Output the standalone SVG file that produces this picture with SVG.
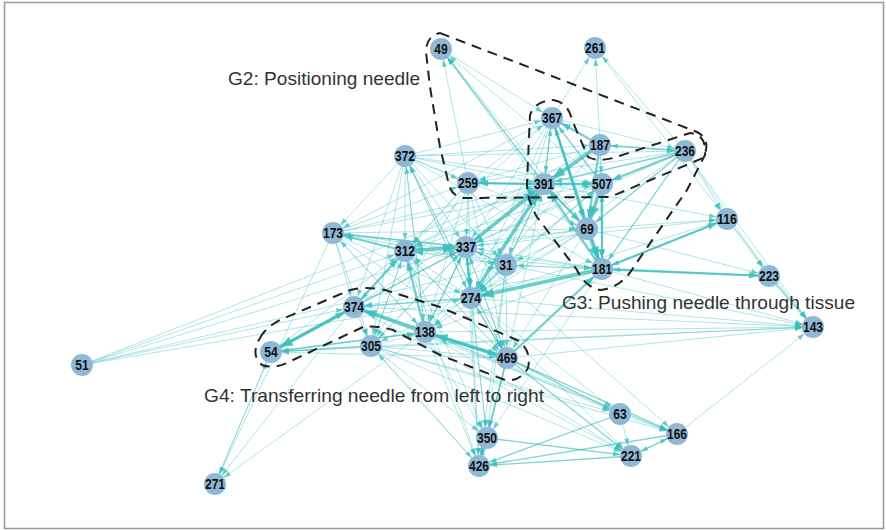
<svg xmlns="http://www.w3.org/2000/svg" width="886" height="530" viewBox="0 0 886 530">
<style>
marker{overflow:visible}
.e{fill:none;stroke:#3bbdbd}
.e1{stroke-width:.8;stroke-opacity:.5;marker-end:url(#a1)}
.e2{stroke-width:1.3;stroke-opacity:.65;marker-end:url(#a1)}
.e3{stroke-width:2.3;stroke-opacity:.7;marker-end:url(#a2)}
.e4{stroke-width:3.6;stroke-opacity:.75;marker-end:url(#a3)}
.hull{fill:none;stroke:#222;stroke-width:2;stroke-dasharray:10 7}
.lbl{font-family:"Liberation Sans",Arial,sans-serif;font-size:19px;fill:#333}
.node circle{fill:#8fb8d6}
.node text{font-family:"Liberation Sans",Arial,sans-serif;font-weight:bold;font-size:14px;fill:#111;text-anchor:middle}
</style>
<defs>
<marker id="a1" markerUnits="userSpaceOnUse" markerWidth="20" markerHeight="6" refX="18" refY="0" orient="auto" overflow="visible"><path d="M0,-2.5L7,0L0,2.5z" fill="#3bbdbd" fill-opacity=".75"/></marker>
<marker id="a2" markerUnits="userSpaceOnUse" markerWidth="22" markerHeight="8" refX="20" refY="0" orient="auto" overflow="visible"><path d="M0,-3.5L9,0L0,3.5z" fill="#3bbdbd" fill-opacity=".8"/></marker>
<marker id="a3" markerUnits="userSpaceOnUse" markerWidth="24" markerHeight="10" refX="23" refY="0" orient="auto" overflow="visible"><path d="M0,-5L12,0L0,5z" fill="#3bbdbd" fill-opacity=".85"/></marker>
</defs>
<rect x="4.5" y="2.5" width="879" height="526" fill="#fff" stroke="#999" stroke-width="1.5"/>
<g id="connectors" class="e">
<g class="e1">
<line x1="82" y1="365" x2="544" y2="184"/>
<line x1="82" y1="365" x2="405" y2="251"/>
<line x1="82" y1="365" x2="466" y2="247"/>
<line x1="82" y1="365" x2="506" y2="265"/>
<line x1="82" y1="365" x2="471" y2="298"/>
<line x1="82" y1="365" x2="354" y2="307"/>
<line x1="405" y1="156" x2="333" y2="233"/>
<line x1="405" y1="156" x2="405" y2="251"/>
<line x1="405" y1="156" x2="354" y2="307"/>
<line x1="405" y1="156" x2="425" y2="332"/>
<line x1="405" y1="156" x2="466" y2="247"/>
<line x1="405" y1="156" x2="471" y2="298"/>
<line x1="405" y1="156" x2="371" y2="346"/>
<line x1="405" y1="156" x2="507" y2="358"/>
<line x1="405" y1="156" x2="506" y2="265"/>
<line x1="405" y1="156" x2="544" y2="184"/>
<line x1="405" y1="156" x2="602" y2="184"/>
<line x1="405" y1="156" x2="685" y2="151"/>
<line x1="405" y1="156" x2="600" y2="145"/>
<line x1="405" y1="156" x2="552" y2="118"/>
<line x1="405" y1="156" x2="468" y2="183"/>
<line x1="405" y1="156" x2="602" y2="269"/>
<line x1="405" y1="156" x2="587" y2="229"/>
<line x1="471" y1="298" x2="405" y2="156"/>
<line x1="425" y1="332" x2="405" y2="156"/>
<line x1="507" y1="358" x2="405" y2="156"/>
<line x1="333" y1="233" x2="466" y2="247"/>
<line x1="333" y1="233" x2="544" y2="184"/>
<line x1="333" y1="233" x2="471" y2="298"/>
<line x1="333" y1="233" x2="506" y2="265"/>
<line x1="333" y1="233" x2="602" y2="269"/>
<line x1="333" y1="233" x2="425" y2="332"/>
<line x1="333" y1="233" x2="354" y2="307"/>
<line x1="333" y1="233" x2="507" y2="358"/>
<line x1="333" y1="233" x2="371" y2="346"/>
<line x1="333" y1="233" x2="468" y2="183"/>
<line x1="333" y1="233" x2="602" y2="184"/>
<line x1="333" y1="233" x2="587" y2="229"/>
<line x1="333" y1="233" x2="215" y2="484"/>
<line x1="425" y1="332" x2="333" y2="233"/>
<line x1="441" y1="49" x2="552" y2="118"/>
<line x1="602" y1="184" x2="441" y2="49"/>
<line x1="587" y1="229" x2="441" y2="49"/>
<line x1="468" y1="183" x2="441" y2="49"/>
<line x1="602" y1="269" x2="441" y2="49"/>
<line x1="468" y1="183" x2="466" y2="247"/>
<line x1="468" y1="183" x2="471" y2="298"/>
<line x1="468" y1="183" x2="405" y2="251"/>
<line x1="468" y1="183" x2="506" y2="265"/>
<line x1="468" y1="183" x2="425" y2="332"/>
<line x1="468" y1="183" x2="507" y2="358"/>
<line x1="468" y1="183" x2="552" y2="118"/>
<line x1="468" y1="183" x2="602" y2="184"/>
<line x1="468" y1="183" x2="354" y2="307"/>
<line x1="468" y1="183" x2="371" y2="346"/>
<line x1="552" y1="118" x2="544" y2="184"/>
<line x1="552" y1="118" x2="466" y2="247"/>
<line x1="552" y1="118" x2="471" y2="298"/>
<line x1="552" y1="118" x2="405" y2="251"/>
<line x1="552" y1="118" x2="333" y2="233"/>
<line x1="552" y1="118" x2="685" y2="151"/>
<line x1="552" y1="118" x2="506" y2="265"/>
<line x1="600" y1="145" x2="602" y2="184"/>
<line x1="600" y1="145" x2="466" y2="247"/>
<line x1="600" y1="145" x2="471" y2="298"/>
<line x1="600" y1="145" x2="602" y2="269"/>
<line x1="600" y1="145" x2="468" y2="183"/>
<line x1="600" y1="145" x2="405" y2="251"/>
<line x1="685" y1="151" x2="600" y2="145"/>
<line x1="685" y1="151" x2="468" y2="183"/>
<line x1="685" y1="151" x2="471" y2="298"/>
<line x1="685" y1="151" x2="769" y2="276"/>
<line x1="685" y1="151" x2="813" y2="327"/>
<line x1="685" y1="151" x2="466" y2="247"/>
<line x1="602" y1="184" x2="544" y2="184"/>
<line x1="602" y1="184" x2="466" y2="247"/>
<line x1="602" y1="184" x2="471" y2="298"/>
<line x1="602" y1="184" x2="405" y2="251"/>
<line x1="602" y1="184" x2="425" y2="332"/>
<line x1="587" y1="229" x2="471" y2="298"/>
<line x1="587" y1="229" x2="466" y2="247"/>
<line x1="587" y1="229" x2="544" y2="184"/>
<line x1="587" y1="229" x2="506" y2="265"/>
<line x1="587" y1="229" x2="425" y2="332"/>
<line x1="587" y1="229" x2="769" y2="276"/>
<line x1="587" y1="229" x2="727" y2="219"/>
<line x1="587" y1="229" x2="405" y2="251"/>
<line x1="587" y1="229" x2="507" y2="358"/>
<line x1="602" y1="269" x2="466" y2="247"/>
<line x1="602" y1="269" x2="425" y2="332"/>
<line x1="602" y1="269" x2="506" y2="265"/>
<line x1="602" y1="269" x2="405" y2="251"/>
<line x1="602" y1="269" x2="813" y2="327"/>
<line x1="602" y1="269" x2="354" y2="307"/>
<line x1="602" y1="269" x2="487" y2="438"/>
<line x1="727" y1="219" x2="813" y2="327"/>
<line x1="466" y1="247" x2="727" y2="219"/>
<line x1="727" y1="219" x2="471" y2="298"/>
<line x1="544" y1="184" x2="727" y2="219"/>
<line x1="425" y1="332" x2="813" y2="327"/>
<line x1="507" y1="358" x2="813" y2="327"/>
<line x1="371" y1="346" x2="813" y2="327"/>
<line x1="354" y1="307" x2="813" y2="327"/>
<line x1="471" y1="298" x2="813" y2="327"/>
<line x1="271" y1="352" x2="813" y2="327"/>
<line x1="506" y1="265" x2="813" y2="327"/>
<line x1="506" y1="265" x2="602" y2="269"/>
<line x1="506" y1="265" x2="602" y2="184"/>
<line x1="506" y1="265" x2="405" y2="251"/>
<line x1="506" y1="265" x2="487" y2="438"/>
<line x1="506" y1="265" x2="507" y2="358"/>
<line x1="506" y1="265" x2="479" y2="466"/>
<line x1="471" y1="298" x2="487" y2="438"/>
<line x1="471" y1="298" x2="479" y2="466"/>
<line x1="471" y1="298" x2="405" y2="251"/>
<line x1="471" y1="298" x2="371" y2="346"/>
<line x1="471" y1="298" x2="507" y2="358"/>
<line x1="471" y1="298" x2="631" y2="456"/>
<line x1="471" y1="298" x2="620" y2="414"/>
<line x1="466" y1="247" x2="479" y2="466"/>
<line x1="466" y1="247" x2="487" y2="438"/>
<line x1="466" y1="247" x2="425" y2="332"/>
<line x1="466" y1="247" x2="371" y2="346"/>
<line x1="466" y1="247" x2="507" y2="358"/>
<line x1="466" y1="247" x2="677" y2="434"/>
<line x1="405" y1="251" x2="479" y2="466"/>
<line x1="405" y1="251" x2="544" y2="184"/>
<line x1="405" y1="251" x2="507" y2="358"/>
<line x1="405" y1="251" x2="371" y2="346"/>
<line x1="405" y1="251" x2="487" y2="438"/>
<line x1="354" y1="307" x2="544" y2="184"/>
<line x1="354" y1="307" x2="677" y2="434"/>
<line x1="354" y1="307" x2="507" y2="358"/>
<line x1="354" y1="307" x2="631" y2="456"/>
<line x1="354" y1="307" x2="215" y2="484"/>
<line x1="354" y1="307" x2="371" y2="346"/>
<line x1="425" y1="332" x2="620" y2="414"/>
<line x1="425" y1="332" x2="677" y2="434"/>
<line x1="425" y1="332" x2="631" y2="456"/>
<line x1="425" y1="332" x2="487" y2="438"/>
<line x1="425" y1="332" x2="479" y2="466"/>
<line x1="425" y1="332" x2="544" y2="184"/>
<line x1="425" y1="332" x2="215" y2="484"/>
<line x1="371" y1="346" x2="425" y2="332"/>
<line x1="371" y1="346" x2="405" y2="251"/>
<line x1="371" y1="346" x2="466" y2="247"/>
<line x1="371" y1="346" x2="507" y2="358"/>
<line x1="371" y1="346" x2="487" y2="438"/>
<line x1="371" y1="346" x2="631" y2="456"/>
<line x1="371" y1="346" x2="620" y2="414"/>
<line x1="371" y1="346" x2="677" y2="434"/>
<line x1="507" y1="358" x2="544" y2="184"/>
<line x1="507" y1="358" x2="405" y2="251"/>
<line x1="507" y1="358" x2="466" y2="247"/>
<line x1="507" y1="358" x2="271" y2="352"/>
<line x1="271" y1="352" x2="405" y2="251"/>
<line x1="271" y1="352" x2="466" y2="247"/>
<line x1="271" y1="352" x2="425" y2="332"/>
<line x1="620" y1="414" x2="631" y2="456"/>
<line x1="620" y1="414" x2="677" y2="434"/>
<line x1="677" y1="434" x2="631" y2="456"/>
<line x1="479" y1="466" x2="487" y2="438"/>
<line x1="271" y1="352" x2="215" y2="484"/>
<line x1="215" y1="484" x2="271" y2="352"/>
<line x1="371" y1="346" x2="479" y2="466"/>
<line x1="479" y1="466" x2="371" y2="346"/>
<line x1="685" y1="151" x2="727" y2="219"/>
<line x1="727" y1="219" x2="769" y2="276"/>
<line x1="677" y1="434" x2="813" y2="327"/>
<line x1="595" y1="48" x2="727" y2="219"/>
<line x1="552" y1="118" x2="595" y2="48"/>
<line x1="600" y1="145" x2="595" y2="48"/>
<line x1="685" y1="151" x2="595" y2="48"/>
</g>
<g class="e2">
<line x1="769" y1="276" x2="602" y2="269"/>
<line x1="727" y1="219" x2="602" y2="269"/>
<line x1="685" y1="151" x2="544" y2="184"/>
<line x1="600" y1="145" x2="685" y2="151"/>
<line x1="468" y1="183" x2="544" y2="184"/>
<line x1="471" y1="298" x2="466" y2="247"/>
<line x1="425" y1="332" x2="466" y2="247"/>
<line x1="471" y1="298" x2="354" y2="307"/>
<line x1="354" y1="307" x2="466" y2="247"/>
<line x1="507" y1="358" x2="471" y2="298"/>
<line x1="544" y1="184" x2="552" y2="118"/>
<line x1="602" y1="184" x2="552" y2="118"/>
<line x1="587" y1="229" x2="552" y2="118"/>
<line x1="602" y1="269" x2="602" y2="184"/>
<line x1="685" y1="151" x2="587" y2="229"/>
<line x1="685" y1="151" x2="602" y2="269"/>
<line x1="466" y1="247" x2="333" y2="233"/>
<line x1="544" y1="184" x2="441" y2="49"/>
<line x1="371" y1="346" x2="271" y2="352"/>
<line x1="425" y1="332" x2="271" y2="352"/>
<line x1="507" y1="358" x2="620" y2="414"/>
<line x1="507" y1="358" x2="677" y2="434"/>
<line x1="507" y1="358" x2="631" y2="456"/>
<line x1="507" y1="358" x2="487" y2="438"/>
<line x1="507" y1="358" x2="479" y2="466"/>
<line x1="631" y1="456" x2="479" y2="466"/>
<line x1="677" y1="434" x2="479" y2="466"/>
<line x1="487" y1="438" x2="631" y2="456"/>
<line x1="631" y1="456" x2="677" y2="434"/>
<line x1="620" y1="414" x2="479" y2="466"/>
<line x1="769" y1="276" x2="813" y2="327"/>
<line x1="506" y1="265" x2="471" y2="298"/>
<line x1="506" y1="265" x2="544" y2="184"/>
<line x1="506" y1="265" x2="466" y2="247"/>
</g>
<g class="e3">
<line x1="271" y1="352" x2="354" y2="307"/>
<line x1="425" y1="332" x2="507" y2="358"/>
<line x1="354" y1="307" x2="405" y2="251"/>
<line x1="425" y1="332" x2="405" y2="251"/>
<line x1="544" y1="184" x2="587" y2="229"/>
<line x1="602" y1="184" x2="602" y2="269"/>
<line x1="552" y1="118" x2="587" y2="229"/>
<line x1="600" y1="145" x2="587" y2="229"/>
<line x1="544" y1="184" x2="602" y2="184"/>
<line x1="685" y1="151" x2="602" y2="184"/>
<line x1="544" y1="184" x2="468" y2="183"/>
<line x1="466" y1="247" x2="471" y2="298"/>
<line x1="602" y1="269" x2="544" y2="184"/>
<line x1="600" y1="145" x2="552" y2="118"/>
<line x1="552" y1="118" x2="602" y2="269"/>
<line x1="405" y1="251" x2="333" y2="233"/>
<line x1="507" y1="358" x2="602" y2="269"/>
<line x1="602" y1="269" x2="769" y2="276"/>
<line x1="602" y1="269" x2="727" y2="219"/>
</g>
<g class="e4">
<line x1="354" y1="307" x2="271" y2="352"/>
<line x1="425" y1="332" x2="354" y2="307"/>
<line x1="507" y1="358" x2="425" y2="332"/>
<line x1="602" y1="269" x2="471" y2="298"/>
<line x1="405" y1="251" x2="466" y2="247"/>
<line x1="466" y1="247" x2="544" y2="184"/>
<line x1="471" y1="298" x2="544" y2="184"/>
<line x1="600" y1="145" x2="544" y2="184"/>
<line x1="602" y1="184" x2="587" y2="229"/>
<line x1="587" y1="229" x2="602" y2="269"/>
</g>
</g>
<g id="groups">
<path class="hull" d="M440,33 L697,132 Q712,140 703,158 L610,197 L465,198 Q452,197 449,185 L440,147 L430,87 L426,52 Q426,36 440,33 Z"/>
<path class="hull" d="M553,100 Q568,102 572,120 L588,157 Q597,162 613,158 L690,133 Q707,135 705,155 L687,190 L635,265 Q622,288 600,290 Q585,287 577,270 L537,217 Q527,200 527,183 L530,115 Q535,101 553,100 Z"/>
<path class="hull" d="M260,338 Q265,328 280,320 L350,290 Q365,286 385,290 L440,307 L517,340 Q532,350 528,368 Q520,382 505,380 L440,355 L393,330 Q375,325 363,327 L293,360 Q275,370 262,365 Q250,355 260,338 Z"/>
<text class="lbl" x="228" y="85" textLength="192" lengthAdjust="spacingAndGlyphs">G2: Positioning needle</text>
<text class="lbl" x="562" y="309" textLength="293" lengthAdjust="spacingAndGlyphs">G3: Pushing needle through tissue</text>
<text class="lbl" x="204" y="402" textLength="340" lengthAdjust="spacingAndGlyphs">G4: Transferring needle from left to right</text>
</g>
<g id="nodes">
<g class="node" id="n49"><circle cx="441" cy="49" r="11"/><text x="441" y="54" textLength="13.5" lengthAdjust="spacingAndGlyphs">49</text></g>
<g class="node" id="n261"><circle cx="595" cy="48" r="11"/><text x="595" y="53" textLength="20" lengthAdjust="spacingAndGlyphs">261</text></g>
<g class="node" id="n367"><circle cx="552" cy="118" r="11"/><text x="552" y="123" textLength="20" lengthAdjust="spacingAndGlyphs">367</text></g>
<g class="node" id="n187"><circle cx="600" cy="145" r="11"/><text x="600" y="150" textLength="20" lengthAdjust="spacingAndGlyphs">187</text></g>
<g class="node" id="n236"><circle cx="685" cy="151" r="11"/><text x="685" y="156" textLength="20" lengthAdjust="spacingAndGlyphs">236</text></g>
<g class="node" id="n372"><circle cx="405" cy="156" r="11"/><text x="405" y="161" textLength="20" lengthAdjust="spacingAndGlyphs">372</text></g>
<g class="node" id="n259"><circle cx="468" cy="183" r="11"/><text x="468" y="188" textLength="20" lengthAdjust="spacingAndGlyphs">259</text></g>
<g class="node" id="n391"><circle cx="544" cy="184" r="11"/><text x="544" y="189" textLength="20" lengthAdjust="spacingAndGlyphs">391</text></g>
<g class="node" id="n507"><circle cx="602" cy="184" r="11"/><text x="602" y="189" textLength="20" lengthAdjust="spacingAndGlyphs">507</text></g>
<g class="node" id="n116"><circle cx="727" cy="219" r="11"/><text x="727" y="224" textLength="20" lengthAdjust="spacingAndGlyphs">116</text></g>
<g class="node" id="n173"><circle cx="333" cy="233" r="11"/><text x="333" y="238" textLength="20" lengthAdjust="spacingAndGlyphs">173</text></g>
<g class="node" id="n69"><circle cx="587" cy="229" r="11"/><text x="587" y="234" textLength="13.5" lengthAdjust="spacingAndGlyphs">69</text></g>
<g class="node" id="n312"><circle cx="405" cy="251" r="11"/><text x="405" y="256" textLength="20" lengthAdjust="spacingAndGlyphs">312</text></g>
<g class="node" id="n337"><circle cx="466" cy="247" r="11"/><text x="466" y="252" textLength="20" lengthAdjust="spacingAndGlyphs">337</text></g>
<g class="node" id="n31"><circle cx="506" cy="265" r="11"/><text x="506" y="270" textLength="13.5" lengthAdjust="spacingAndGlyphs">31</text></g>
<g class="node" id="n181"><circle cx="602" cy="269" r="11"/><text x="602" y="274" textLength="20" lengthAdjust="spacingAndGlyphs">181</text></g>
<g class="node" id="n223"><circle cx="769" cy="276" r="11"/><text x="769" y="281" textLength="20" lengthAdjust="spacingAndGlyphs">223</text></g>
<g class="node" id="n274"><circle cx="471" cy="298" r="11"/><text x="471" y="303" textLength="20" lengthAdjust="spacingAndGlyphs">274</text></g>
<g class="node" id="n374"><circle cx="354" cy="307" r="11"/><text x="354" y="312" textLength="20" lengthAdjust="spacingAndGlyphs">374</text></g>
<g class="node" id="n143"><circle cx="813" cy="327" r="11"/><text x="813" y="332" textLength="20" lengthAdjust="spacingAndGlyphs">143</text></g>
<g class="node" id="n138"><circle cx="425" cy="332" r="11"/><text x="425" y="337" textLength="20" lengthAdjust="spacingAndGlyphs">138</text></g>
<g class="node" id="n305"><circle cx="371" cy="346" r="11"/><text x="371" y="351" textLength="20" lengthAdjust="spacingAndGlyphs">305</text></g>
<g class="node" id="n54"><circle cx="271" cy="352" r="11"/><text x="271" y="357" textLength="13.5" lengthAdjust="spacingAndGlyphs">54</text></g>
<g class="node" id="n469"><circle cx="507" cy="358" r="11"/><text x="507" y="363" textLength="20" lengthAdjust="spacingAndGlyphs">469</text></g>
<g class="node" id="n51"><circle cx="82" cy="365" r="11"/><text x="82" y="370" textLength="13.5" lengthAdjust="spacingAndGlyphs">51</text></g>
<g class="node" id="n63"><circle cx="620" cy="414" r="11"/><text x="620" y="419" textLength="13.5" lengthAdjust="spacingAndGlyphs">63</text></g>
<g class="node" id="n350"><circle cx="487" cy="438" r="11"/><text x="487" y="443" textLength="20" lengthAdjust="spacingAndGlyphs">350</text></g>
<g class="node" id="n166"><circle cx="677" cy="434" r="11"/><text x="677" y="439" textLength="20" lengthAdjust="spacingAndGlyphs">166</text></g>
<g class="node" id="n221"><circle cx="631" cy="456" r="11"/><text x="631" y="461" textLength="20" lengthAdjust="spacingAndGlyphs">221</text></g>
<g class="node" id="n426"><circle cx="479" cy="466" r="11"/><text x="479" y="471" textLength="20" lengthAdjust="spacingAndGlyphs">426</text></g>
<g class="node" id="n271"><circle cx="215" cy="484" r="11"/><text x="215" y="489" textLength="20" lengthAdjust="spacingAndGlyphs">271</text></g>
</g>
</svg>
